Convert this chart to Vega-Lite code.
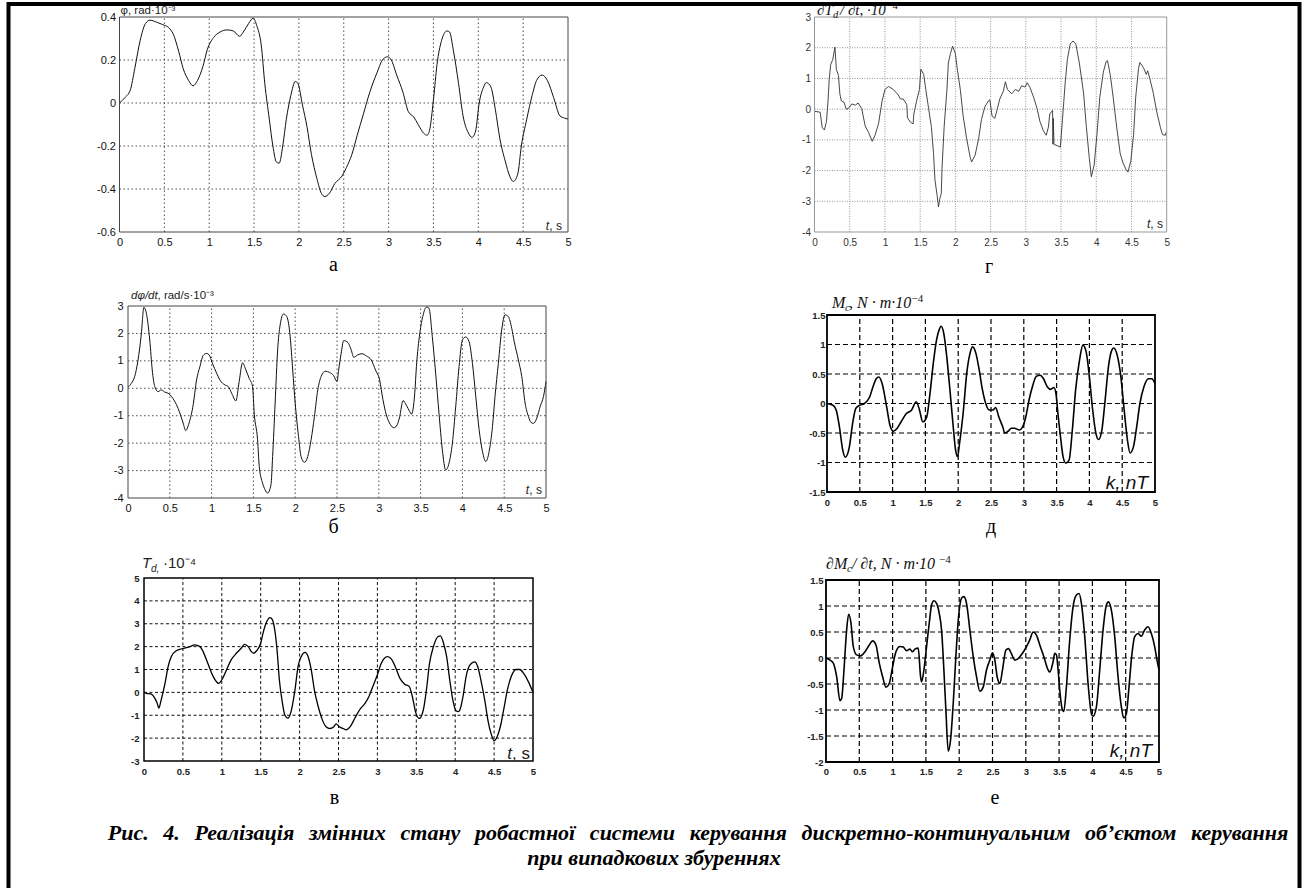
{
"$schema": "https://vega.github.io/schema/vega-lite/v6.json",
"width": 1291, "height": 910,
"autosize": {"type": "none"},
"padding": {"left": 8.5, "top": 4, "right": 3.5, "bottom": 0},
"background": "white",
"config": {"view": {"stroke": "black", "strokeWidth": 4}},
"title": {"text": ["\u200b\u2003\u2003\u2003\u2003Рис.\u2002\u20064.\u2002\u2006Реалізація\u2002\u2006змінних\u2002\u2006стану\u2002\u2006робастної\u2002\u2006системи\u2002\u2006керування\u2002\u2006дискретно-континуальним\u2002\u2006об’єктом\u2002\u2006керування", "при випадкових збуреннях"], "orient": "bottom", "anchor": "middle", "frame": "group", "offset": -91, "font": "Liberation Serif", "fontSize": 22, "fontStyle": "italic", "fontWeight": "bold", "color": "#000", "lineHeight": 25, "baseline": "top"},
"resolve": {"scale": {"x": "independent", "y": "independent"}, "axis": {"x": "independent", "y": "independent"}},
"layer": [
{
"encoding": {
 "x": {"field": "t", "type": "quantitative", "scale": {"domain": [0, 5], "range": [111, 559.5], "nice": false, "zero": false},
  "axis": {"orient": "bottom", "offset": -682, "values": [0,0.5,1,1.5,2,2.5,3,3.5,4,4.5,5], "labelExpr": "'' + datum.value", "domain": false, "ticks": false, "tickSize": 0, "grid": false, "labelFont": "Liberation Sans", "labelFontSize": 11, "labelColor": "#111", "labelPadding": 4, "labelFlush": false, "labelOverlap": false, "title": "а", "titleX": 324.5, "titleY": 38, "titleAngle": 0, "titleAlign": "center", "titleBaseline": "alphabetic", "titleFont": "Liberation Serif", "titleFontSize": 20, "titleFontWeight": "normal", "titleColor": "#000"}},
 "y": {"field": "v", "type": "quantitative", "scale": {"domain": [-0.6, 0.4], "range": [228, 13], "nice": false, "zero": false},
  "axis": {"orient": "left", "offset": -111, "values": [-0.6,-0.4,-0.2,0,0.2,0.4], "labelExpr": "'' + datum.value", "domain": false, "ticks": false, "tickSize": 0, "grid": false, "labelFont": "Liberation Sans", "labelFontSize": 11, "labelColor": "#111", "labelPadding": 4, "labelFlush": false, "labelOverlap": false, "title": null}}
},
"layer": [
 {"data": {"values": [{"t":0.5,"v":-0.6,"v2":0.4},{"t":1,"v":-0.6,"v2":0.4},{"t":1.5,"v":-0.6,"v2":0.4},{"t":2,"v":-0.6,"v2":0.4},{"t":2.5,"v":-0.6,"v2":0.4},{"t":3,"v":-0.6,"v2":0.4},{"t":3.5,"v":-0.6,"v2":0.4},{"t":4,"v":-0.6,"v2":0.4},{"t":4.5,"v":-0.6,"v2":0.4}]},
  "mark": {"type": "rule", "stroke": "#222", "strokeWidth": 0.8, "strokeDash": [1.5, 2.5]}, "encoding": {"y2": {"field": "v2"}}},
 {"data": {"values": [{"t":0,"t2":5,"v":-0.4},{"t":0,"t2":5,"v":-0.2},{"t":0,"t2":5,"v":0},{"t":0,"t2":5,"v":0.2}]},
  "mark": {"type": "rule", "stroke": "#222", "strokeWidth": 0.8, "strokeDash": [1.5, 2.5]}, "encoding": {"x2": {"field": "t2"}}},
 {"data": {"values": [{"t":0,"v":0},{"t":0.06,"v":0.025},{"t":0.12,"v":0.06},{"t":0.17,"v":0.16},{"t":0.23,"v":0.29},{"t":0.29,"v":0.37},{"t":0.34,"v":0.385},{"t":0.42,"v":0.375},{"t":0.48,"v":0.365},{"t":0.55,"v":0.35},{"t":0.6,"v":0.32},{"t":0.66,"v":0.24},{"t":0.71,"v":0.16},{"t":0.77,"v":0.105},{"t":0.82,"v":0.08},{"t":0.87,"v":0.105},{"t":0.93,"v":0.17},{"t":0.98,"v":0.25},{"t":1.05,"v":0.305},{"t":1.12,"v":0.33},{"t":1.2,"v":0.34},{"t":1.27,"v":0.335},{"t":1.34,"v":0.31},{"t":1.38,"v":0.33},{"t":1.44,"v":0.37},{"t":1.49,"v":0.395},{"t":1.53,"v":0.36},{"t":1.58,"v":0.27},{"t":1.62,"v":0.09},{"t":1.67,"v":-0.075},{"t":1.71,"v":-0.2},{"t":1.75,"v":-0.275},{"t":1.78,"v":-0.28},{"t":1.82,"v":-0.2},{"t":1.86,"v":-0.075},{"t":1.91,"v":0.035},{"t":1.96,"v":0.1},{"t":1.99,"v":0.09},{"t":2.04,"v":-0.01},{"t":2.09,"v":-0.11},{"t":2.14,"v":-0.24},{"t":2.2,"v":-0.35},{"t":2.25,"v":-0.42},{"t":2.29,"v":-0.435},{"t":2.34,"v":-0.42},{"t":2.4,"v":-0.375},{"t":2.48,"v":-0.34},{"t":2.53,"v":-0.3},{"t":2.59,"v":-0.24},{"t":2.65,"v":-0.15},{"t":2.72,"v":-0.05},{"t":2.79,"v":0.05},{"t":2.87,"v":0.14},{"t":2.94,"v":0.205},{"t":2.99,"v":0.215},{"t":3.03,"v":0.2},{"t":3.09,"v":0.13},{"t":3.16,"v":0.05},{"t":3.22,"v":-0.04},{"t":3.28,"v":-0.065},{"t":3.33,"v":-0.1},{"t":3.39,"v":-0.14},{"t":3.43,"v":-0.15},{"t":3.46,"v":-0.12},{"t":3.5,"v":0.015},{"t":3.54,"v":0.18},{"t":3.59,"v":0.29},{"t":3.65,"v":0.335},{"t":3.68,"v":0.33},{"t":3.72,"v":0.25},{"t":3.78,"v":0.09},{"t":3.83,"v":-0.06},{"t":3.89,"v":-0.14},{"t":3.93,"v":-0.16},{"t":3.97,"v":-0.13},{"t":4.01,"v":0},{"t":4.06,"v":0.075},{"t":4.09,"v":0.095},{"t":4.14,"v":0.075},{"t":4.19,"v":-0.03},{"t":4.24,"v":-0.165},{"t":4.3,"v":-0.27},{"t":4.35,"v":-0.34},{"t":4.39,"v":-0.365},{"t":4.44,"v":-0.33},{"t":4.48,"v":-0.2},{"t":4.54,"v":-0.075},{"t":4.6,"v":0.035},{"t":4.65,"v":0.105},{"t":4.71,"v":0.13},{"t":4.77,"v":0.105},{"t":4.84,"v":0.025},{"t":4.91,"v":-0.06},{"t":4.96,"v":-0.07},{"t":5,"v":-0.075}]},
  "mark": {"type": "line", "stroke": "#111", "strokeWidth": 1, "interpolate": "monotone"}, "encoding": {}},
 {"data": {"values": [{"t":0,"t2":5,"v":-0.6,"v2":0.4}]}, "mark": {"type": "rect", "fillOpacity": 0, "stroke": "#444", "strokeWidth": 1}, "encoding": {"x2": {"field": "t2"}, "y2": {"field": "v2"}}},
 {"data": {"values": [{"t":0,"v":0.4,"label":"φ, rad·10⁻³"}]}, "mark": {"type": "text", "align": "left", "baseline": "alphabetic", "dx": 1, "dy": -3, "font": "Liberation Sans", "fontSize": 11.5, "fill": "#222"}, "encoding": {"text": {"field": "label"}}},
 {"data": {"values": [{"t":5,"v":-0.6,"label":"t"}]}, "mark": {"type": "text", "align": "right", "baseline": "alphabetic", "dx": -19, "dy": -2.5, "font": "Liberation Sans", "fontStyle": "italic", "fontSize": 12, "fill": "#222"}, "encoding": {"text": {"field": "label"}}},
 {"data": {"values": [{"t":5,"v":-0.6,"label":", s"}]}, "mark": {"type": "text", "align": "right", "baseline": "alphabetic", "dx": -6, "dy": -2.5, "font": "Liberation Sans", "fontSize": 12, "fill": "#222"}, "encoding": {"text": {"field": "label"}}}
]
},
{
"encoding": {
 "x": {"field": "t", "type": "quantitative", "scale": {"domain": [0, 5], "range": [119.5, 537.5], "nice": false, "zero": false},
  "axis": {"orient": "bottom", "offset": -416, "values": [0,0.5,1,1.5,2,2.5,3,3.5,4,4.5,5], "labelExpr": "'' + datum.value", "domain": false, "ticks": false, "tickSize": 0, "grid": false, "labelFont": "Liberation Sans", "labelFontSize": 11, "labelColor": "#111", "labelPadding": 4, "labelFlush": false, "labelOverlap": false, "title": "б", "titleX": 324.5, "titleY": 34, "titleAngle": 0, "titleAlign": "center", "titleBaseline": "alphabetic", "titleFont": "Liberation Serif", "titleFontSize": 20, "titleFontWeight": "normal", "titleColor": "#000"}},
 "y": {"field": "v", "type": "quantitative", "scale": {"domain": [-4, 3], "range": [494, 302], "nice": false, "zero": false},
  "axis": {"orient": "left", "offset": -119.5, "values": [-4,-3,-2,-1,0,1,2,3], "labelExpr": "'' + datum.value", "domain": false, "ticks": false, "tickSize": 0, "grid": false, "labelFont": "Liberation Sans", "labelFontSize": 11, "labelColor": "#111", "labelPadding": 5, "labelFlush": false, "labelOverlap": false, "title": null}}
},
"layer": [
 {"data": {"values": [{"t":0.5,"v":-4,"v2":3},{"t":1,"v":-4,"v2":3},{"t":1.5,"v":-4,"v2":3},{"t":2,"v":-4,"v2":3},{"t":2.5,"v":-4,"v2":3},{"t":3,"v":-4,"v2":3},{"t":3.5,"v":-4,"v2":3},{"t":4,"v":-4,"v2":3},{"t":4.5,"v":-4,"v2":3}]},
  "mark": {"type": "rule", "stroke": "#222", "strokeWidth": 0.8, "strokeDash": [1.5, 2.5]}, "encoding": {"y2": {"field": "v2"}}},
 {"data": {"values": [{"t":0,"t2":5,"v":-3},{"t":0,"t2":5,"v":-2},{"t":0,"t2":5,"v":-1},{"t":0,"t2":5,"v":0},{"t":0,"t2":5,"v":1},{"t":0,"t2":5,"v":2}]},
  "mark": {"type": "rule", "stroke": "#222", "strokeWidth": 0.8, "strokeDash": [1.5, 2.5]}, "encoding": {"x2": {"field": "t2"}}},
 {"data": {"values": [{"t":0,"v":0.04},{"t":0.04,"v":0.18},{"t":0.08,"v":0.43},{"t":0.12,"v":1.03},{"t":0.16,"v":2.0},{"t":0.19,"v":2.95},{"t":0.22,"v":2.73},{"t":0.26,"v":1.76},{"t":0.29,"v":0.67},{"t":0.32,"v":0.06},{"t":0.36,"v":-0.12},{"t":0.4,"v":-0.06},{"t":0.44,"v":-0.14},{"t":0.48,"v":-0.18},{"t":0.52,"v":-0.3},{"t":0.58,"v":-0.6},{"t":0.62,"v":-0.9},{"t":0.66,"v":-1.27},{"t":0.69,"v":-1.54},{"t":0.73,"v":-1.27},{"t":0.78,"v":-0.6},{"t":0.82,"v":0.3},{"t":0.86,"v":0.79},{"t":0.9,"v":1.2},{"t":0.94,"v":1.27},{"t":0.97,"v":1.22},{"t":1.01,"v":0.91},{"t":1.06,"v":0.55},{"t":1.1,"v":0.3},{"t":1.16,"v":0.12},{"t":1.2,"v":0.06},{"t":1.24,"v":-0.18},{"t":1.29,"v":-0.46},{"t":1.33,"v":0.25},{"t":1.37,"v":0.93},{"t":1.41,"v":0.67},{"t":1.45,"v":0.36},{"t":1.49,"v":0.06},{"t":1.51,"v":-0.91},{"t":1.55,"v":-1.88},{"t":1.57,"v":-2.85},{"t":1.61,"v":-3.46},{"t":1.64,"v":-3.7},{"t":1.67,"v":-3.82},{"t":1.71,"v":-3.52},{"t":1.73,"v":-2.49},{"t":1.76,"v":-0.54},{"t":1.79,"v":1.4},{"t":1.82,"v":2.31},{"t":1.86,"v":2.71},{"t":1.9,"v":2.61},{"t":1.94,"v":1.88},{"t":1.97,"v":0.67},{"t":2.0,"v":-0.54},{"t":2.04,"v":-1.76},{"t":2.07,"v":-2.49},{"t":2.11,"v":-2.7},{"t":2.15,"v":-2.49},{"t":2.19,"v":-1.88},{"t":2.23,"v":-1.03},{"t":2.27,"v":-0.06},{"t":2.31,"v":0.43},{"t":2.36,"v":0.62},{"t":2.41,"v":0.58},{"t":2.46,"v":0.46},{"t":2.5,"v":0.25},{"t":2.52,"v":0.67},{"t":2.55,"v":1.28},{"t":2.58,"v":1.74},{"t":2.63,"v":1.67},{"t":2.67,"v":1.4},{"t":2.7,"v":1.13},{"t":2.75,"v":1.22},{"t":2.8,"v":1.26},{"t":2.85,"v":1.18},{"t":2.91,"v":1.03},{"t":2.96,"v":0.67},{"t":3.01,"v":0.3},{"t":3.05,"v":-0.42},{"t":3.09,"v":-0.97},{"t":3.14,"v":-1.33},{"t":3.18,"v":-1.44},{"t":3.22,"v":-1.33},{"t":3.25,"v":-1.03},{"t":3.29,"v":-0.45},{"t":3.33,"v":-0.62},{"t":3.37,"v":-0.85},{"t":3.39,"v":-0.95},{"t":3.43,"v":-0.18},{"t":3.45,"v":0.79},{"t":3.49,"v":2.0},{"t":3.53,"v":2.67},{"t":3.57,"v":2.96},{"t":3.6,"v":2.92},{"t":3.64,"v":1.88},{"t":3.68,"v":0.55},{"t":3.72,"v":-0.91},{"t":3.76,"v":-2.24},{"t":3.8,"v":-2.98},{"t":3.84,"v":-2.73},{"t":3.88,"v":-2.0},{"t":3.92,"v":-0.67},{"t":3.96,"v":0.79},{"t":4.0,"v":1.76},{"t":4.04,"v":1.87},{"t":4.08,"v":1.7},{"t":4.12,"v":0.91},{"t":4.16,"v":-0.3},{"t":4.2,"v":-1.51},{"t":4.24,"v":-2.3},{"t":4.28,"v":-2.67},{"t":4.32,"v":-2.3},{"t":4.36,"v":-1.39},{"t":4.39,"v":-0.3},{"t":4.43,"v":0.91},{"t":4.47,"v":2.13},{"t":4.51,"v":2.68},{"t":4.55,"v":2.61},{"t":4.59,"v":2.19},{"t":4.62,"v":1.7},{"t":4.67,"v":1.03},{"t":4.71,"v":0.43},{"t":4.75,"v":-0.54},{"t":4.79,"v":-1.03},{"t":4.82,"v":-1.24},{"t":4.85,"v":-1.28},{"t":4.89,"v":-1.09},{"t":4.93,"v":-0.67},{"t":4.97,"v":-0.3},{"t":5.0,"v":0.25}]},
  "mark": {"type": "line", "stroke": "#111", "strokeWidth": 1, "interpolate": "monotone"}, "encoding": {}},
 {"data": {"values": [{"t":0,"t2":5,"v":-4,"v2":3}]}, "mark": {"type": "rect", "fillOpacity": 0, "stroke": "#444", "strokeWidth": 1}, "encoding": {"x2": {"field": "t2"}, "y2": {"field": "v2"}}},
 {"data": {"values": [{"t":0,"v":3,"label":"dφ/dt"}]}, "mark": {"type": "text", "align": "left", "baseline": "alphabetic", "dx": 3, "dy": -7, "font": "Liberation Sans", "fontStyle": "italic", "fontSize": 11.5, "fill": "#222"}, "encoding": {"text": {"field": "label"}}},
 {"data": {"values": [{"t":0,"v":3,"label":", rad/s·10⁻³"}]}, "mark": {"type": "text", "align": "left", "baseline": "alphabetic", "dx": 29.5, "dy": -7, "font": "Liberation Sans", "fontSize": 11.5, "fill": "#222"}, "encoding": {"text": {"field": "label"}}},
 {"data": {"values": [{"t":5,"v":-4,"label":"t"}]}, "mark": {"type": "text", "align": "right", "baseline": "alphabetic", "dx": -17, "dy": -4, "font": "Liberation Sans", "fontStyle": "italic", "fontSize": 12, "fill": "#222"}, "encoding": {"text": {"field": "label"}}},
 {"data": {"values": [{"t":5,"v":-4,"label":", s"}]}, "mark": {"type": "text", "align": "right", "baseline": "alphabetic", "dx": -4, "dy": -4, "font": "Liberation Sans", "fontSize": 12, "fill": "#222"}, "encoding": {"text": {"field": "label"}}}
]
},
{
"encoding": {
 "x": {"field": "t", "type": "quantitative", "scale": {"domain": [0, 5], "range": [135.5, 524.5], "nice": false, "zero": false},
  "axis": {"orient": "bottom", "offset": -153, "values": [0,0.5,1,1.5,2,2.5,3,3.5,4,4.5,5], "labelExpr": "'' + datum.value", "domain": false, "ticks": false, "tickSize": 0, "grid": false, "labelFont": "Liberation Sans", "labelFontSize": 9.5, "labelFontWeight": "bold", "labelColor": "#222", "labelPadding": 5, "labelFlush": false, "labelOverlap": false, "title": "в", "titleX": 325.5, "titleY": 42, "titleAngle": 0, "titleAlign": "center", "titleBaseline": "alphabetic", "titleFont": "Liberation Serif", "titleFontSize": 20, "titleFontWeight": "normal", "titleColor": "#000"}},
 "y": {"field": "v", "type": "quantitative", "scale": {"domain": [-3, 5], "range": [757, 574], "nice": false, "zero": false},
  "axis": {"orient": "left", "offset": -135.5, "values": [-3,-2,-1,0,1,2,3,4,5], "labelExpr": "'' + datum.value", "domain": false, "ticks": false, "tickSize": 0, "grid": false, "labelFont": "Liberation Sans", "labelFontSize": 9.5, "labelFontWeight": "bold", "labelColor": "#222", "labelPadding": 5, "labelFlush": false, "labelOverlap": false, "title": null}}
},
"layer": [
 {"data": {"values": [{"t":0.5,"v":-3,"v2":5},{"t":1,"v":-3,"v2":5},{"t":1.5,"v":-3,"v2":5},{"t":2,"v":-3,"v2":5},{"t":2.5,"v":-3,"v2":5},{"t":3,"v":-3,"v2":5},{"t":3.5,"v":-3,"v2":5},{"t":4,"v":-3,"v2":5},{"t":4.5,"v":-3,"v2":5}]},
  "mark": {"type": "rule", "stroke": "#111", "strokeWidth": 1, "strokeDash": [3, 2.5]}, "encoding": {"y2": {"field": "v2"}}},
 {"data": {"values": [{"t":0,"t2":5,"v":-2},{"t":0,"t2":5,"v":-1},{"t":0,"t2":5,"v":0},{"t":0,"t2":5,"v":1},{"t":0,"t2":5,"v":2},{"t":0,"t2":5,"v":3},{"t":0,"t2":5,"v":4}]},
  "mark": {"type": "rule", "stroke": "#111", "strokeWidth": 1, "strokeDash": [3, 2.5]}, "encoding": {"x2": {"field": "t2"}}},
 {"data": {"values": [{"t":0,"v":0},{"t":0.03,"v":-0.04},{"t":0.09,"v":-0.07},{"t":0.14,"v":-0.26},{"t":0.17,"v":-0.48},{"t":0.19,"v":-0.69},{"t":0.22,"v":-0.34},{"t":0.27,"v":0.39},{"t":0.31,"v":1.13},{"t":0.35,"v":1.56},{"t":0.42,"v":1.83},{"t":0.46,"v":1.88},{"t":0.52,"v":1.93},{"t":0.59,"v":2.0},{"t":0.65,"v":2.08},{"t":0.72,"v":2.0},{"t":0.76,"v":1.78},{"t":0.82,"v":1.27},{"t":0.89,"v":0.69},{"t":0.93,"v":0.47},{"t":0.96,"v":0.39},{"t":1.01,"v":0.61},{"t":1.06,"v":0.98},{"t":1.12,"v":1.42},{"t":1.19,"v":1.72},{"t":1.25,"v":1.93},{"t":1.29,"v":2.1},{"t":1.34,"v":2.0},{"t":1.38,"v":1.78},{"t":1.41,"v":1.71},{"t":1.45,"v":1.83},{"t":1.5,"v":2.15},{"t":1.53,"v":2.59},{"t":1.57,"v":3.03},{"t":1.62,"v":3.27},{"t":1.65,"v":3.18},{"t":1.68,"v":2.74},{"t":1.71,"v":1.86},{"t":1.74,"v":0.54},{"t":1.78,"v":-0.48},{"t":1.81,"v":-0.99},{"t":1.85,"v":-1.13},{"t":1.89,"v":-0.84},{"t":1.94,"v":0.1},{"t":1.98,"v":1.13},{"t":2.02,"v":1.56},{"t":2.07,"v":1.75},{"t":2.11,"v":1.56},{"t":2.15,"v":0.98},{"t":2.19,"v":0.1},{"t":2.24,"v":-0.63},{"t":2.29,"v":-1.18},{"t":2.34,"v":-1.5},{"t":2.39,"v":-1.58},{"t":2.44,"v":-1.5},{"t":2.47,"v":-1.38},{"t":2.51,"v":-1.5},{"t":2.56,"v":-1.58},{"t":2.6,"v":-1.64},{"t":2.65,"v":-1.5},{"t":2.71,"v":-1.13},{"t":2.77,"v":-0.77},{"t":2.84,"v":-0.48},{"t":2.89,"v":-0.19},{"t":2.94,"v":0.25},{"t":3.0,"v":0.77},{"t":3.05,"v":1.27},{"t":3.09,"v":1.49},{"t":3.13,"v":1.56},{"t":3.18,"v":1.45},{"t":3.23,"v":1.12},{"t":3.29,"v":0.61},{"t":3.35,"v":0.36},{"t":3.41,"v":0.25},{"t":3.45,"v":-0.19},{"t":3.49,"v":-0.85},{"t":3.54,"v":-1.14},{"t":3.59,"v":-0.77},{"t":3.63,"v":0.1},{"t":3.67,"v":1.27},{"t":3.72,"v":2.0},{"t":3.78,"v":2.44},{"t":3.81,"v":2.47},{"t":3.85,"v":2.15},{"t":3.89,"v":1.56},{"t":3.93,"v":0.54},{"t":3.97,"v":-0.34},{"t":4.01,"v":-0.8},{"t":4.04,"v":-0.84},{"t":4.06,"v":-0.77},{"t":4.1,"v":-0.19},{"t":4.14,"v":0.69},{"t":4.19,"v":1.2},{"t":4.25,"v":1.33},{"t":4.29,"v":1.12},{"t":4.33,"v":0.54},{"t":4.38,"v":-0.34},{"t":4.42,"v":-1.21},{"t":4.46,"v":-1.79},{"t":4.5,"v":-2.11},{"t":4.54,"v":-1.93},{"t":4.59,"v":-1.35},{"t":4.63,"v":-0.63},{"t":4.67,"v":0.1},{"t":4.72,"v":0.69},{"t":4.78,"v":1.0},{"t":4.83,"v":1.0},{"t":4.88,"v":0.83},{"t":4.94,"v":0.47},{"t":5.0,"v":0.0}]},
  "mark": {"type": "line", "stroke": "#000", "strokeWidth": 1.3, "interpolate": "monotone"}, "encoding": {}},
 {"data": {"values": [{"t":0,"t2":5,"v":-3,"v2":5}]}, "mark": {"type": "rect", "fillOpacity": 0, "stroke": "#000", "strokeWidth": 1.5}, "encoding": {"x2": {"field": "t2"}, "y2": {"field": "v2"}}},
 {"data": {"values": [{"t":0,"v":5,"label":"T"}]}, "mark": {"type": "text", "align": "left", "baseline": "alphabetic", "dx": -2, "dy": -10, "font": "Liberation Sans", "fontStyle": "italic", "fontSize": 15, "fill": "#222"}, "encoding": {"text": {"field": "label"}}},
 {"data": {"values": [{"t":0,"v":5,"label":"d,"}]}, "mark": {"type": "text", "align": "left", "baseline": "alphabetic", "dx": 7, "dy": -6, "font": "Liberation Sans", "fontStyle": "italic", "fontSize": 10, "fill": "#222"}, "encoding": {"text": {"field": "label"}}},
 {"data": {"values": [{"t":0,"v":5,"label":"·10⁻⁴"}]}, "mark": {"type": "text", "align": "left", "baseline": "alphabetic", "dx": 19, "dy": -10, "font": "Liberation Sans", "fontSize": 15, "fill": "#222"}, "encoding": {"text": {"field": "label"}}},
 {"data": {"values": [{"t":5,"v":-3,"label":"t"}]}, "mark": {"type": "text", "align": "right", "baseline": "alphabetic", "dx": -21, "dy": -2, "font": "Liberation Sans", "fontStyle": "italic", "fontSize": 17, "fill": "#222"}, "encoding": {"text": {"field": "label"}}},
 {"data": {"values": [{"t":5,"v":-3,"label":", s"}]}, "mark": {"type": "text", "align": "right", "baseline": "alphabetic", "dx": -3, "dy": -2, "font": "Liberation Sans", "fontSize": 17, "fill": "#222"}, "encoding": {"text": {"field": "label"}}}
]
},
{
"encoding": {
 "x": {"field": "t", "type": "quantitative", "scale": {"domain": [0, 5], "range": [806, 1158.2], "nice": false, "zero": false},
  "axis": {"orient": "bottom", "offset": -682, "values": [0,0.5,1,1.5,2,2.5,3,3.5,4,4.5,5], "labelExpr": "'' + datum.value", "domain": false, "ticks": false, "tickSize": 0, "grid": false, "labelFont": "Liberation Sans", "labelFontSize": 10, "labelColor": "#333", "labelPadding": 5, "labelFlush": false, "labelOverlap": false, "title": "г", "titleX": 980, "titleY": 40, "titleAngle": 0, "titleAlign": "center", "titleBaseline": "alphabetic", "titleFont": "Liberation Serif", "titleFontSize": 20, "titleFontWeight": "normal", "titleColor": "#000"}},
 "y": {"field": "v", "type": "quantitative", "scale": {"domain": [-4, 3], "range": [228, 13], "nice": false, "zero": false},
  "axis": {"orient": "left", "offset": -806, "values": [-4,-3,-2,-1,0,1,2,3], "labelExpr": "'' + datum.value", "domain": false, "ticks": false, "tickSize": 0, "grid": false, "labelFont": "Liberation Sans", "labelFontSize": 10, "labelColor": "#333", "labelPadding": 4, "labelFlush": false, "labelOverlap": false, "title": null}}
},
"layer": [
 {"data": {"values": [{"t":0.5,"v":-4,"v2":3},{"t":1,"v":-4,"v2":3},{"t":1.5,"v":-4,"v2":3},{"t":2,"v":-4,"v2":3},{"t":2.5,"v":-4,"v2":3},{"t":3,"v":-4,"v2":3},{"t":3.5,"v":-4,"v2":3},{"t":4,"v":-4,"v2":3},{"t":4.5,"v":-4,"v2":3}]},
  "mark": {"type": "rule", "stroke": "#777", "strokeWidth": 0.8, "strokeDash": [1, 1.5]}, "encoding": {"y2": {"field": "v2"}}},
 {"data": {"values": [{"t":0,"t2":5,"v":-3},{"t":0,"t2":5,"v":-2},{"t":0,"t2":5,"v":-1},{"t":0,"t2":5,"v":0},{"t":0,"t2":5,"v":1},{"t":0,"t2":5,"v":2}]},
  "mark": {"type": "rule", "stroke": "#777", "strokeWidth": 0.8, "strokeDash": [1, 1.5]}, "encoding": {"x2": {"field": "t2"}}},
 {"data": {"values": [{"t":0,"v":-0.07},{"t":0.08,"v":-0.1},{"t":0.11,"v":-0.6},{"t":0.14,"v":-0.68},{"t":0.17,"v":-0.4},{"t":0.19,"v":0.2},{"t":0.21,"v":1.0},{"t":0.23,"v":1.45},{"t":0.26,"v":1.62},{"t":0.29,"v":2.02},{"t":0.31,"v":1.3},{"t":0.34,"v":1.1},{"t":0.36,"v":0.5},{"t":0.38,"v":0.27},{"t":0.42,"v":0.22},{"t":0.45,"v":0.0},{"t":0.48,"v":0.02},{"t":0.53,"v":0.17},{"t":0.58,"v":0.13},{"t":0.62,"v":0.2},{"t":0.67,"v":0.02},{"t":0.72,"v":-0.55},{"t":0.77,"v":-0.77},{"t":0.82,"v":-1.05},{"t":0.86,"v":-0.85},{"t":0.91,"v":-0.46},{"t":0.96,"v":0.27},{"t":1.0,"v":0.64},{"t":1.05,"v":0.74},{"t":1.12,"v":0.64},{"t":1.19,"v":0.46},{"t":1.22,"v":0.33},{"t":1.26,"v":0.33},{"t":1.31,"v":0.15},{"t":1.32,"v":-0.28},{"t":1.36,"v":-0.42},{"t":1.4,"v":-0.48},{"t":1.41,"v":-0.16},{"t":1.45,"v":0.27},{"t":1.49,"v":0.64},{"t":1.51,"v":1.3},{"t":1.55,"v":1.13},{"t":1.58,"v":0.64},{"t":1.62,"v":0.02},{"t":1.66,"v":-0.59},{"t":1.69,"v":-1.45},{"t":1.71,"v":-2.3},{"t":1.74,"v":-2.8},{"t":1.76,"v":-3.18},{"t":1.78,"v":-2.9},{"t":1.8,"v":-2.75},{"t":1.81,"v":-1.94},{"t":1.84,"v":-0.59},{"t":1.88,"v":0.64},{"t":1.9,"v":1.5},{"t":1.93,"v":1.81},{"t":1.96,"v":2.05},{"t":2.0,"v":1.81},{"t":2.03,"v":1.26},{"t":2.07,"v":0.64},{"t":2.11,"v":-0.22},{"t":2.16,"v":-0.96},{"t":2.21,"v":-1.57},{"t":2.23,"v":-1.72},{"t":2.28,"v":-1.5},{"t":2.33,"v":-0.96},{"t":2.37,"v":-0.34},{"t":2.42,"v":0.09},{"t":2.47,"v":0.27},{"t":2.49,"v":0.3},{"t":2.52,"v":-0.22},{"t":2.56,"v":-0.3},{"t":2.59,"v":-0.04},{"t":2.63,"v":0.33},{"t":2.68,"v":0.58},{"t":2.71,"v":0.89},{"t":2.74,"v":0.64},{"t":2.8,"v":0.5},{"t":2.85,"v":0.64},{"t":2.9,"v":0.58},{"t":2.94,"v":0.76},{"t":2.99,"v":0.72},{"t":3.02,"v":0.86},{"t":3.06,"v":0.7},{"t":3.11,"v":0.39},{"t":3.16,"v":0.02},{"t":3.2,"v":-0.4},{"t":3.25,"v":-0.71},{"t":3.29,"v":-0.85},{"t":3.32,"v":-0.59},{"t":3.34,"v":-0.16},{"t":3.38,"v":-0.04},{"t":3.385,"v":-1.14},{"t":3.39,"v":-0.3},{"t":3.4,"v":-1.15},{"t":3.46,"v":-1.2},{"t":3.49,"v":-1.24},{"t":3.52,"v":-0.34},{"t":3.56,"v":0.89},{"t":3.59,"v":1.62},{"t":3.63,"v":2.12},{"t":3.67,"v":2.22},{"t":3.71,"v":2.12},{"t":3.76,"v":1.5},{"t":3.82,"v":0.52},{"t":3.86,"v":-0.59},{"t":3.9,"v":-1.57},{"t":3.93,"v":-2.2},{"t":3.97,"v":-1.82},{"t":4.01,"v":-0.83},{"t":4.05,"v":0.39},{"t":4.1,"v":1.2},{"t":4.14,"v":1.55},{"t":4.16,"v":1.58},{"t":4.2,"v":1.1},{"t":4.24,"v":0.39},{"t":4.29,"v":-0.59},{"t":4.34,"v":-1.45},{"t":4.38,"v":-1.75},{"t":4.43,"v":-2.0},{"t":4.45,"v":-2.05},{"t":4.49,"v":-1.7},{"t":4.53,"v":-0.83},{"t":4.56,"v":0.39},{"t":4.6,"v":1.32},{"t":4.62,"v":1.52},{"t":4.67,"v":1.35},{"t":4.71,"v":1.13},{"t":4.73,"v":1.25},{"t":4.76,"v":1.0},{"t":4.81,"v":0.52},{"t":4.86,"v":-0.1},{"t":4.91,"v":-0.59},{"t":4.94,"v":-0.83},{"t":4.98,"v":-0.85},{"t":5.0,"v":-0.71}]},
  "mark": {"type": "line", "stroke": "#333", "strokeWidth": 0.9}, "encoding": {}},
 {"data": {"values": [{"t":0,"t2":5,"v":-4,"v2":3}]}, "mark": {"type": "rect", "fillOpacity": 0, "stroke": "#999", "strokeWidth": 1}, "encoding": {"x2": {"field": "t2"}, "y2": {"field": "v2"}}},
 {"data": {"values": [{"t":0,"v":3,"label":"∂T"}]}, "mark": {"type": "text", "align": "left", "baseline": "alphabetic", "dx": 2.5, "dy": -2.5, "font": "Liberation Serif", "fontStyle": "italic", "fontSize": 15, "fill": "#111"}, "encoding": {"text": {"field": "label"}}},
 {"data": {"values": [{"t":0,"v":3,"label":"d"}]}, "mark": {"type": "text", "align": "left", "baseline": "alphabetic", "dx": 18.5, "dy": 0.5, "font": "Liberation Serif", "fontStyle": "italic", "fontSize": 10.5, "fill": "#111"}, "encoding": {"text": {"field": "label"}}},
 {"data": {"values": [{"t":0,"v":3,"label":"/ ∂t, ·10"}]}, "mark": {"type": "text", "align": "left", "baseline": "alphabetic", "dx": 25.5, "dy": -2.5, "font": "Liberation Serif", "fontStyle": "italic", "fontSize": 15, "fill": "#111"}, "encoding": {"text": {"field": "label"}}},
 {"data": {"values": [{"t":0,"v":3,"label":"−4"}]}, "mark": {"type": "text", "align": "left", "baseline": "alphabetic", "dx": 72, "dy": -8, "font": "Liberation Serif", "fontSize": 10.5, "fill": "#111"}, "encoding": {"text": {"field": "label"}}},
 {"data": {"values": [{"t":5,"v":-4,"label":"t"}]}, "mark": {"type": "text", "align": "right", "baseline": "alphabetic", "dx": -16.3, "dy": -4.5, "font": "Liberation Sans", "fontStyle": "italic", "fontSize": 12, "fill": "#222"}, "encoding": {"text": {"field": "label"}}},
 {"data": {"values": [{"t":5,"v":-4,"label":", s"}]}, "mark": {"type": "text", "align": "right", "baseline": "alphabetic", "dx": -3.7, "dy": -4.5, "font": "Liberation Sans", "fontSize": 12, "fill": "#222"}, "encoding": {"text": {"field": "label"}}}
]
},
{
"encoding": {
 "x": {"field": "t", "type": "quantitative", "scale": {"domain": [0, 5], "range": [818.5, 1146.5], "nice": false, "zero": false},
  "axis": {"orient": "bottom", "offset": -422, "values": [0,0.5,1,1.5,2,2.5,3,3.5,4,4.5,5], "labelExpr": "'' + datum.value", "domain": false, "ticks": false, "tickSize": 0, "grid": false, "labelFont": "Liberation Sans", "labelFontSize": 9.5, "labelFontWeight": "bold", "labelColor": "#222", "labelPadding": 5, "labelFlush": false, "labelOverlap": false, "title": "д", "titleX": 982, "titleY": 40, "titleAngle": 0, "titleAlign": "center", "titleBaseline": "alphabetic", "titleFont": "Liberation Serif", "titleFontSize": 20, "titleFontWeight": "normal", "titleColor": "#000"}},
 "y": {"field": "v", "type": "quantitative", "scale": {"domain": [-1.5, 1.5], "range": [488, 311], "nice": false, "zero": false},
  "axis": {"orient": "left", "offset": -818.5, "values": [-1.5,-1,-0.5,0,0.5,1,1.5], "labelExpr": "'' + datum.value", "domain": false, "ticks": false, "tickSize": 0, "grid": false, "labelFont": "Liberation Sans", "labelFontSize": 9.5, "labelFontWeight": "bold", "labelColor": "#222", "labelPadding": 2, "labelFlush": false, "labelOverlap": false, "title": null}}
},
"layer": [
 {"data": {"values": [{"t":0.5,"v":-1.5,"v2":1.5},{"t":1,"v":-1.5,"v2":1.5},{"t":1.5,"v":-1.5,"v2":1.5},{"t":2,"v":-1.5,"v2":1.5},{"t":2.5,"v":-1.5,"v2":1.5},{"t":3,"v":-1.5,"v2":1.5},{"t":3.5,"v":-1.5,"v2":1.5},{"t":4,"v":-1.5,"v2":1.5},{"t":4.5,"v":-1.5,"v2":1.5}]},
  "mark": {"type": "rule", "stroke": "#000", "strokeWidth": 1.2, "strokeDash": [5, 3]}, "encoding": {"y2": {"field": "v2"}}},
 {"data": {"values": [{"t":0,"t2":5,"v":-1},{"t":0,"t2":5,"v":-0.5},{"t":0,"t2":5,"v":0},{"t":0,"t2":5,"v":0.5},{"t":0,"t2":5,"v":1}]},
  "mark": {"type": "rule", "stroke": "#000", "strokeWidth": 1.2, "strokeDash": [5, 3]}, "encoding": {"x2": {"field": "t2"}}},
 {"data": {"values": [{"t":0,"v":0},{"t":0.09,"v":-0.03},{"t":0.14,"v":-0.11},{"t":0.19,"v":-0.4},{"t":0.24,"v":-0.79},{"t":0.28,"v":-0.91},{"t":0.34,"v":-0.74},{"t":0.39,"v":-0.34},{"t":0.44,"v":-0.08},{"t":0.5,"v":-0.03},{"t":0.57,"v":0.0},{"t":0.65,"v":0.11},{"t":0.7,"v":0.28},{"t":0.75,"v":0.42},{"t":0.79,"v":0.45},{"t":0.84,"v":0.34},{"t":0.91,"v":-0.06},{"t":0.96,"v":-0.37},{"t":1.01,"v":-0.47},{"t":1.07,"v":-0.42},{"t":1.13,"v":-0.31},{"t":1.21,"v":-0.17},{"t":1.29,"v":-0.11},{"t":1.36,"v":0.03},{"t":1.41,"v":-0.11},{"t":1.46,"v":-0.31},{"t":1.52,"v":-0.23},{"t":1.57,"v":0.17},{"t":1.62,"v":0.68},{"t":1.67,"v":1.08},{"t":1.71,"v":1.25},{"t":1.74,"v":1.31},{"t":1.78,"v":1.19},{"t":1.82,"v":0.85},{"t":1.87,"v":0.28},{"t":1.92,"v":-0.34},{"t":1.96,"v":-0.79},{"t":1.99,"v":-0.9},{"t":2.02,"v":-0.68},{"t":2.08,"v":-0.11},{"t":2.13,"v":0.51},{"t":2.18,"v":0.85},{"t":2.22,"v":0.96},{"t":2.27,"v":0.85},{"t":2.32,"v":0.57},{"t":2.37,"v":0.23},{"t":2.42,"v":0.0},{"t":2.47,"v":-0.11},{"t":2.53,"v":-0.11},{"t":2.57,"v":-0.07},{"t":2.62,"v":-0.23},{"t":2.68,"v":-0.4},{"t":2.71,"v":-0.5},{"t":2.76,"v":-0.47},{"t":2.81,"v":-0.42},{"t":2.86,"v":-0.42},{"t":2.93,"v":-0.45},{"t":2.98,"v":-0.4},{"t":3.03,"v":-0.23},{"t":3.08,"v":0.06},{"t":3.13,"v":0.28},{"t":3.19,"v":0.46},{"t":3.25,"v":0.48},{"t":3.3,"v":0.42},{"t":3.36,"v":0.28},{"t":3.41,"v":0.24},{"t":3.46,"v":0.27},{"t":3.49,"v":0.17},{"t":3.52,"v":-0.17},{"t":3.56,"v":-0.57},{"t":3.6,"v":-0.91},{"t":3.64,"v":-1.01},{"t":3.69,"v":-0.96},{"t":3.74,"v":-0.45},{"t":3.79,"v":0.23},{"t":3.85,"v":0.74},{"t":3.9,"v":0.99},{"t":3.95,"v":0.88},{"t":4.0,"v":0.45},{"t":4.05,"v":-0.11},{"t":4.1,"v":-0.51},{"t":4.14,"v":-0.61},{"t":4.19,"v":-0.45},{"t":4.24,"v":0.06},{"t":4.29,"v":0.62},{"t":4.34,"v":0.9},{"t":4.37,"v":0.94},{"t":4.43,"v":0.79},{"t":4.48,"v":0.45},{"t":4.53,"v":-0.11},{"t":4.58,"v":-0.62},{"t":4.62,"v":-0.84},{"t":4.67,"v":-0.74},{"t":4.72,"v":-0.4},{"t":4.77,"v":0.0},{"t":4.83,"v":0.28},{"t":4.9,"v":0.42},{"t":4.95,"v":0.42},{"t":5.0,"v":0.34}]},
  "mark": {"type": "line", "stroke": "#000", "strokeWidth": 1.6, "interpolate": "monotone"}, "encoding": {}},
 {"data": {"values": [{"t":0,"t2":5,"v":-1.5,"v2":1.5}]}, "mark": {"type": "rect", "fillOpacity": 0, "stroke": "#000", "strokeWidth": 1.8}, "encoding": {"x2": {"field": "t2"}, "y2": {"field": "v2"}}},
 {"data": {"values": [{"t":0,"v":1.5,"label":"M"}]}, "mark": {"type": "text", "align": "left", "baseline": "alphabetic", "dx": 5, "dy": -7.5, "font": "Liberation Serif", "fontStyle": "italic", "fontSize": 16, "fill": "#111"}, "encoding": {"text": {"field": "label"}}},
 {"data": {"values": [{"t":0,"v":1.5,"label":"c"}]}, "mark": {"type": "text", "align": "left", "baseline": "alphabetic", "dx": 18, "dy": -4.5, "font": "Liberation Serif", "fontStyle": "italic", "fontSize": 11, "fill": "#111"}, "encoding": {"text": {"field": "label"}}},
 {"data": {"values": [{"t":0,"v":1.5,"label":", N · m·10"}]}, "mark": {"type": "text", "align": "left", "baseline": "alphabetic", "dx": 22, "dy": -7.5, "font": "Liberation Serif", "fontStyle": "italic", "fontSize": 16, "fill": "#111"}, "encoding": {"text": {"field": "label"}}},
 {"data": {"values": [{"t":0,"v":1.5,"label":"−4"}]}, "mark": {"type": "text", "align": "left", "baseline": "alphabetic", "dx": 84.5, "dy": -13.5, "font": "Liberation Serif", "fontSize": 11, "fill": "#111"}, "encoding": {"text": {"field": "label"}}},
 {"data": {"values": [{"t":5,"v":-1.5,"label":"k, nT"}]}, "mark": {"type": "text", "align": "right", "baseline": "alphabetic", "dx": -7, "dy": -3.5, "font": "Liberation Sans", "fontStyle": "italic", "fontSize": 19, "fill": "#111"}, "encoding": {"text": {"field": "label"}}}
]
},
{
"encoding": {
 "x": {"field": "t", "type": "quantitative", "scale": {"domain": [0, 5], "range": [817.5, 1150.5], "nice": false, "zero": false},
  "axis": {"orient": "bottom", "offset": -152, "values": [0,0.5,1,1.5,2,2.5,3,3.5,4,4.5,5], "labelExpr": "'' + datum.value", "domain": false, "ticks": false, "tickSize": 0, "grid": false, "labelFont": "Liberation Sans", "labelFontSize": 9.5, "labelFontWeight": "bold", "labelColor": "#222", "labelPadding": 4, "labelFlush": false, "labelOverlap": false, "title": "е", "titleX": 986, "titleY": 41, "titleAngle": 0, "titleAlign": "center", "titleBaseline": "alphabetic", "titleFont": "Liberation Serif", "titleFontSize": 20, "titleFontWeight": "normal", "titleColor": "#000"}},
 "y": {"field": "v", "type": "quantitative", "scale": {"domain": [-2, 1.5], "range": [758, 576], "nice": false, "zero": false},
  "axis": {"orient": "left", "offset": -817.5, "values": [-2,-1.5,-1,-0.5,0,0.5,1,1.5], "labelExpr": "'' + datum.value", "domain": false, "ticks": false, "tickSize": 0, "grid": false, "labelFont": "Liberation Sans", "labelFontSize": 9.5, "labelFontWeight": "bold", "labelColor": "#222", "labelPadding": 3, "labelFlush": false, "labelOverlap": false, "title": null}}
},
"layer": [
 {"data": {"values": [{"t":0.5,"v":-2,"v2":1.5},{"t":1,"v":-2,"v2":1.5},{"t":1.5,"v":-2,"v2":1.5},{"t":2,"v":-2,"v2":1.5},{"t":2.5,"v":-2,"v2":1.5},{"t":3,"v":-2,"v2":1.5},{"t":3.5,"v":-2,"v2":1.5},{"t":4,"v":-2,"v2":1.5},{"t":4.5,"v":-2,"v2":1.5}]},
  "mark": {"type": "rule", "stroke": "#000", "strokeWidth": 1.2, "strokeDash": [5, 3]}, "encoding": {"y2": {"field": "v2"}}},
 {"data": {"values": [{"t":0,"t2":5,"v":-1.5},{"t":0,"t2":5,"v":-1},{"t":0,"t2":5,"v":-0.5},{"t":0,"t2":5,"v":0},{"t":0,"t2":5,"v":0.5},{"t":0,"t2":5,"v":1}]},
  "mark": {"type": "rule", "stroke": "#000", "strokeWidth": 1.2, "strokeDash": [5, 3]}, "encoding": {"x2": {"field": "t2"}}},
 {"data": {"values": [{"t":0,"v":0},{"t":0.06,"v":-0.04},{"t":0.11,"v":-0.1},{"t":0.16,"v":-0.36},{"t":0.21,"v":-0.82},{"t":0.235,"v":-0.78},{"t":0.27,"v":-0.23},{"t":0.31,"v":0.54},{"t":0.34,"v":0.84},{"t":0.375,"v":0.67},{"t":0.41,"v":0.22},{"t":0.46,"v":0.06},{"t":0.52,"v":0.04},{"t":0.585,"v":0.12},{"t":0.65,"v":0.25},{"t":0.7,"v":0.33},{"t":0.75,"v":0.25},{"t":0.8,"v":-0.1},{"t":0.85,"v":-0.36},{"t":0.9,"v":-0.56},{"t":0.95,"v":-0.49},{"t":1.0,"v":-0.17},{"t":1.05,"v":0.12},{"t":1.11,"v":0.22},{"t":1.16,"v":0.21},{"t":1.21,"v":0.14},{"t":1.26,"v":0.17},{"t":1.3,"v":0.12},{"t":1.335,"v":0.17},{"t":1.385,"v":0.19},{"t":1.42,"v":-0.36},{"t":1.435,"v":-0.46},{"t":1.47,"v":-0.23},{"t":1.51,"v":0.22},{"t":1.55,"v":0.67},{"t":1.585,"v":1.02},{"t":1.62,"v":1.1},{"t":1.66,"v":1.05},{"t":1.7,"v":0.86},{"t":1.735,"v":0.54},{"t":1.77,"v":-0.23},{"t":1.8,"v":-1.0},{"t":1.835,"v":-1.79},{"t":1.87,"v":-1.58},{"t":1.91,"v":-0.88},{"t":1.95,"v":0.03},{"t":1.99,"v":0.79},{"t":2.035,"v":1.15},{"t":2.07,"v":1.18},{"t":2.11,"v":1.05},{"t":2.16,"v":0.54},{"t":2.21,"v":0.03},{"t":2.26,"v":-0.36},{"t":2.31,"v":-0.64},{"t":2.36,"v":-0.56},{"t":2.41,"v":-0.23},{"t":2.46,"v":-0.04},{"t":2.5,"v":0.1},{"t":2.535,"v":-0.04},{"t":2.57,"v":-0.36},{"t":2.61,"v":-0.49},{"t":2.65,"v":-0.23},{"t":2.7,"v":0.15},{"t":2.74,"v":0.18},{"t":2.785,"v":0.08},{"t":2.835,"v":-0.04},{"t":2.885,"v":-0.01},{"t":2.95,"v":0.09},{"t":3.01,"v":0.22},{"t":3.06,"v":0.35},{"t":3.11,"v":0.5},{"t":3.16,"v":0.44},{"t":3.21,"v":0.25},{"t":3.27,"v":0.03},{"t":3.335,"v":-0.23},{"t":3.36,"v":-0.27},{"t":3.41,"v":-0.07},{"t":3.435,"v":0.09},{"t":3.46,"v":0.06},{"t":3.485,"v":-0.23},{"t":3.51,"v":-0.62},{"t":3.55,"v":-1.0},{"t":3.57,"v":-1.03},{"t":3.61,"v":-0.55},{"t":3.66,"v":0.35},{"t":3.71,"v":0.99},{"t":3.76,"v":1.21},{"t":3.8,"v":1.24},{"t":3.835,"v":1.05},{"t":3.885,"v":0.41},{"t":3.935,"v":-0.49},{"t":3.985,"v":-1.07},{"t":4.01,"v":-1.12},{"t":4.06,"v":-0.94},{"t":4.11,"v":-0.23},{"t":4.16,"v":0.54},{"t":4.21,"v":1.02},{"t":4.24,"v":1.08},{"t":4.285,"v":0.92},{"t":4.335,"v":0.41},{"t":4.385,"v":-0.36},{"t":4.435,"v":-0.94},{"t":4.47,"v":-1.15},{"t":4.51,"v":-1.07},{"t":4.55,"v":-0.55},{"t":4.59,"v":0.03},{"t":4.635,"v":0.41},{"t":4.685,"v":0.47},{"t":4.735,"v":0.42},{"t":4.785,"v":0.54},{"t":4.835,"v":0.6},{"t":4.885,"v":0.47},{"t":4.935,"v":0.22},{"t":4.97,"v":-0.04},{"t":5.0,"v":-0.23}]},
  "mark": {"type": "line", "stroke": "#000", "strokeWidth": 1.6, "interpolate": "monotone"}, "encoding": {}},
 {"data": {"values": [{"t":0,"t2":5,"v":-2,"v2":1.5}]}, "mark": {"type": "rect", "fillOpacity": 0, "stroke": "#000", "strokeWidth": 1.8}, "encoding": {"x2": {"field": "t2"}, "y2": {"field": "v2"}}},
 {"data": {"values": [{"t":0,"v":1.5,"label":"∂M"}]}, "mark": {"type": "text", "align": "left", "baseline": "alphabetic", "dx": 0, "dy": -11.5, "font": "Liberation Serif", "fontStyle": "italic", "fontSize": 16, "fill": "#111"}, "encoding": {"text": {"field": "label"}}},
 {"data": {"values": [{"t":0,"v":1.5,"label":"c"}]}, "mark": {"type": "text", "align": "left", "baseline": "alphabetic", "dx": 21, "dy": -8.5, "font": "Liberation Serif", "fontStyle": "italic", "fontSize": 11, "fill": "#111"}, "encoding": {"text": {"field": "label"}}},
 {"data": {"values": [{"t":0,"v":1.5,"label":" / ∂t, N · m·10"}]}, "mark": {"type": "text", "align": "left", "baseline": "alphabetic", "dx": 26, "dy": -11.5, "font": "Liberation Serif", "fontStyle": "italic", "fontSize": 16, "fill": "#111"}, "encoding": {"text": {"field": "label"}}},
 {"data": {"values": [{"t":0,"v":1.5,"label":"−4"}]}, "mark": {"type": "text", "align": "left", "baseline": "alphabetic", "dx": 113, "dy": -17.5, "font": "Liberation Serif", "fontSize": 11, "fill": "#111"}, "encoding": {"text": {"field": "label"}}},
 {"data": {"values": [{"t":5,"v":-2,"label":"k, nT"}]}, "mark": {"type": "text", "align": "right", "baseline": "alphabetic", "dx": -7, "dy": -5.5, "font": "Liberation Sans", "fontStyle": "italic", "fontSize": 19, "fill": "#111"}, "encoding": {"text": {"field": "label"}}}
]
}
]
}
